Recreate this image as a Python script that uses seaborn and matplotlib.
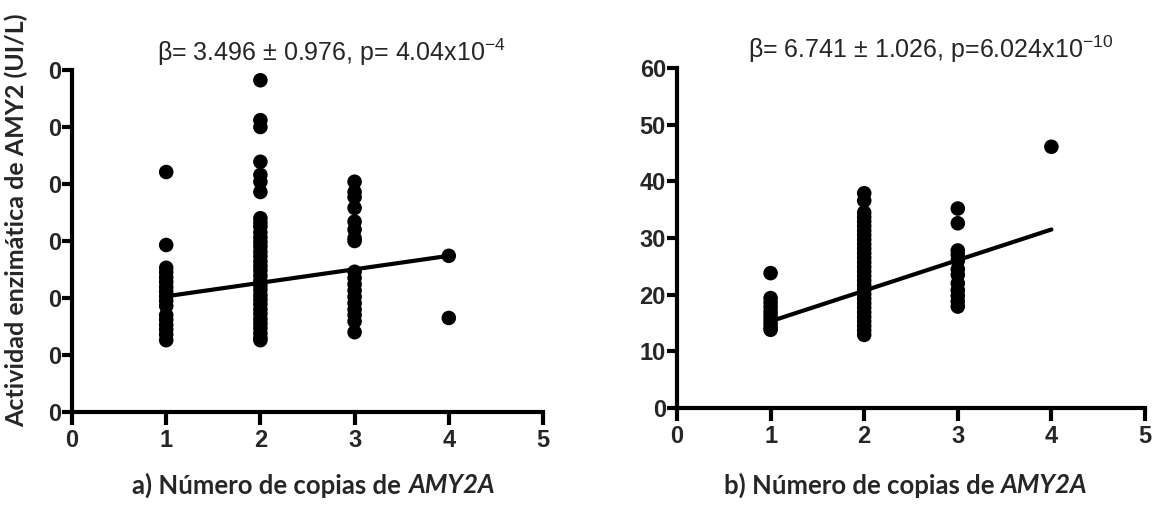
import matplotlib
matplotlib.use("Agg")
import matplotlib.pyplot as plt
import seaborn as sns
import pandas as pd

# ---- data ----
# panel a
a_x1 = [42.1, 29.3, 25.3, 24.5, 23.6, 22.8, 21.9, 21.1, 20.3, 19.5, 18.6, 17.0, 16.2, 15.3, 14.5, 13.6, 12.6]
a_x2 = [58.2, 51.2, 50.0, 43.9, 41.6, 40.4, 38.6, 34.0, 33.2, 32.5, 31.5, 30.6, 29.8, 29.0, 28.1, 27.3,
        26.4, 25.6, 24.8, 23.9, 23.0, 22.2, 21.4, 20.5, 19.7, 18.9, 18.0, 17.2, 16.3, 15.5, 14.7, 13.8, 13.0, 12.6]
a_x3 = [40.4, 38.6, 37.7, 35.8, 33.4, 32.0, 30.5, 30.0, 24.6, 23.5, 22.4, 21.3, 20.2, 19.1, 18.0, 17.0, 15.9, 14.0]
a_x4 = [27.4, 16.5]
a_fit_x = [1, 4]
a_fit_y = [20.3, 27.4]

# panel b
b_x1 = [23.8, 19.4, 18.6, 17.8, 17.0, 16.3, 15.6, 14.9, 14.2, 13.8]
b_x2 = [37.9, 36.6, 34.5, 33.7, 32.9, 32.1, 31.3, 30.5, 29.7, 28.9, 28.1, 27.3, 26.5, 25.7, 24.9, 24.1,
        23.3, 22.5, 21.7, 20.9, 20.1, 19.3, 18.5, 17.7, 16.9, 16.1, 15.3, 14.5, 13.7, 12.9]
b_x3 = [35.2, 32.6, 27.8, 27.0, 26.0, 24.5, 23.5, 22.0, 20.8, 19.8, 18.8, 17.9]
b_x4 = [46.1]
b_fit_x = [1, 4]
b_fit_y = [15.3, 31.5]

x_ticks = [0, 1, 2, 3, 4, 5]
y_ticks = [0, 10, 20, 30, 40, 50, 60]
a_ytick_labels = ["0", "0", "0", "0", "0", "0", "0"]   # first digits hidden in the original
b_ytick_labels = ["0", "10", "20", "30", "40", "50", "60"]

a_title = r"β= 3.496 ± 0.976, p= 4.04x10$^{-4}$"
b_title = r"β= 6.741 ± 1.026, p=6.024x10$^{-10}$"
y_label = "Actividad enzimática de AMY2 (UI/L)"


def to_frame(cols):
    rows = []
    for copies, vals in cols.items():
        for v in vals:
            rows.append((copies, v))
    return pd.DataFrame(rows, columns=["copias", "actividad"])


sns.set_theme(style="white")
plt.rcParams['font.family'] = ['Liberation Sans', 'DejaVu Sans']
plt.rcParams['mathtext.fontset'] = 'custom'
plt.rcParams['mathtext.rm'] = 'Liberation Sans'

fig = plt.figure(figsize=(11.6, 5.05), dpi=100)
ax_a = fig.add_axes([72/1160, 93/505, 471/1160, 342/505])
ax_b = fig.add_axes([677/1160, 97/505, 468/1160, 340/505])

df_a = to_frame({1: a_x1, 2: a_x2, 3: a_x3, 4: a_x4})
df_b = to_frame({1: b_x1, 2: b_x2, 3: b_x3, 4: b_x4})

tick_font = ["Liberation Sans Narrow", "Liberation Sans", "DejaVu Sans"]
cap_font = ["Lato", "DejaVu Sans"]

for ax, df, fx, fy, ylabs in [(ax_a, df_a, a_fit_x, a_fit_y, a_ytick_labels),
                              (ax_b, df_b, b_fit_x, b_fit_y, b_ytick_labels)]:
    sns.lineplot(x=fx, y=fy, ax=ax, color="black", linewidth=3.0, zorder=2)
    sns.scatterplot(data=df, x="copias", y="actividad", ax=ax, color="black",
                    s=110, edgecolor="none", zorder=3, clip_on=False)
    ax.set_xlim(0, 5)
    ax.set_ylim(0, 60)
    ax.set_xticks(x_ticks)
    ax.set_xticklabels([str(t) for t in x_ticks])
    ax.set_yticks(y_ticks)
    ax.set_yticklabels(ylabs)
    ax.set_xlabel("")
    ax.set_ylabel("")
    for s in ["top", "right"]:
        ax.spines[s].set_visible(False)
    for s in ["left", "bottom"]:
        ax.spines[s].set_linewidth(3.0)
        ax.spines[s].set_color("black")
    ax.tick_params(axis="x", direction="out", length=9, width=3.0, color="black", pad=3)
    ax.tick_params(axis="y", direction="out", length=7, width=3.0, color="black", pad=1)
    ax.tick_params(bottom=True, left=True)
    for lab in ax.get_xticklabels() + ax.get_yticklabels():
        lab.set_fontweight("bold")
        lab.set_fontfamily(tick_font)
        lab.set_fontsize(17)

# stats above each panel
fig.text(331/1160, 1 - 52/505, a_title, ha="center", va="center", fontsize=18)
fig.text(931/1160, 1 - 49/505, b_title, ha="center", va="center", fontsize=18)

# y label of panel a
fig.text(16/1160, 1 - 220/505, y_label, rotation=90, ha="center", va="center",
         fontsize=18, fontweight="bold", family=cap_font)

# bottom captions, gene name in bold italic
for cx, prefix in [(270/1160, "a) Número de copias de "), (862/1160, "b) Número de copias de ")]:
    t1 = fig.text(cx, 1 - 485/505, prefix, ha="center", va="center",
                  fontsize=18.5, fontweight="bold", family=cap_font)
    ax_a.annotate("AMY2A", xy=(1, 0.5), xycoords=t1, ha="left", va="center",
                  fontsize=18.5, fontweight="bold", fontstyle="italic",
                  family=cap_font, annotation_clip=False)

fig.savefig("out.png", dpi=100)
